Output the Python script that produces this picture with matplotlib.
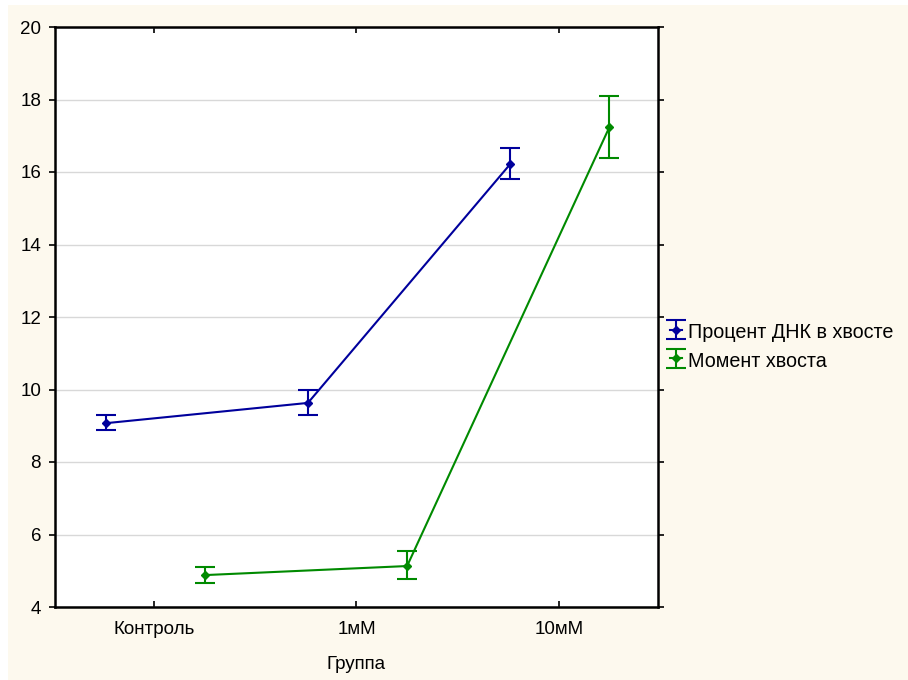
import numpy as np
import matplotlib.pyplot as plt
from matplotlib.patches import Rectangle

plt.rcParams['font.family'] = ['Liberation Sans', 'DejaVu Sans']

# Данные
groups = ['Контроль', '1мМ', '10мМ']
dna_mean = [9.07, 9.63, 16.22]
dna_low = [8.87, 9.29, 15.81]
dna_high = [9.29, 9.98, 16.65]
moment_mean = [4.88, 5.13, 17.24]
moment_low = [4.66, 4.76, 16.38]
moment_high = [5.10, 5.55, 18.11]

x = np.arange(len(groups))
blue = '#00009c'
green = '#008a00'

fig = plt.figure(figsize=(9.08, 6.8), dpi=100)
fig.patch.set_facecolor('white')
fig.patches.append(Rectangle((8/908, 0), 1, 675/680, transform=fig.transFigure,
                             facecolor='#fdf9ee', edgecolor='none', zorder=-10))

ax = fig.add_axes([55/908, 73/680, 603/908, 580/680])
ax.set_facecolor('white')

def draw(pos, mean, low, high, color, label):
    mean = np.array(mean)
    err = [mean - np.array(low), np.array(high) - mean]
    ax.errorbar(pos, mean, yerr=err, color=color, marker='D', markersize=4,
                linewidth=1.5, capsize=7, capthick=1.5, elinewidth=1.5,
                label=label, zorder=3)

draw(x - 0.24, dna_mean, dna_low, dna_high, blue, 'Процент ДНК в хвосте')
draw(x + 0.25, moment_mean, moment_low, moment_high, green, 'Момент хвоста')

ax.set_xlim(-0.49, 2.49)
ax.set_ylim(4, 20)
ax.set_yticks(np.arange(4, 21, 2))
ax.set_xticks(x)
ax.set_xticklabels(groups)
ax.yaxis.grid(True, color='#d8d8d8', linewidth=1)
ax.set_axisbelow(True)
ax.tick_params(axis='both', labelsize=13.5, length=4, width=1.2, top=True, right=True)
ax.tick_params(axis='x', direction='in', pad=10)
ax.tick_params(axis='y', direction='out', pad=6)
for s in ax.spines.values():
    s.set_linewidth(1.8)
ax.set_xlabel('Группа', fontsize=13.5, labelpad=13)

ax.legend(loc='center left', bbox_to_anchor=(1.0, 0.45), frameon=False,
          fontsize=14.2, handlelength=0.6, handleheight=1.25, handletextpad=0.3,
          labelspacing=0.4, borderaxespad=0.3, borderpad=0.3)

fig.savefig('out.png', dpi=100)
